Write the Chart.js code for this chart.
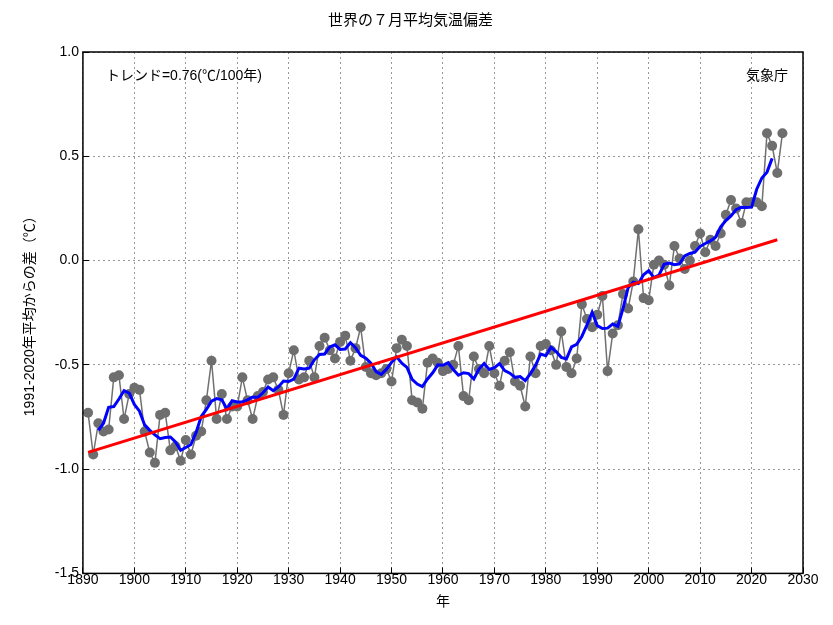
<!DOCTYPE html>
<html><head><meta charset="utf-8">
<script src="https://cdn.jsdelivr.net/npm/chart.js@4"></script>
<style>body{margin:0;background:#fff}#w{width:833px;height:625px}</style>
</head><body><div id="w"><canvas id="c"></canvas></div>
<script>
const START_YEAR = 1891;
const anomalies = [
  -0.73,-0.93,-0.78,-0.82,-0.81,-0.56,-0.55,-0.76,-0.64,-0.61,
  -0.62,-0.82,-0.92,-0.97,-0.74,-0.73,-0.91,-0.89,-0.96,-0.86,
  -0.93,-0.84,-0.82,-0.67,-0.48,-0.76,-0.64,-0.76,-0.70,-0.70,
  -0.56,-0.67,-0.76,-0.65,-0.63,-0.57,-0.56,-0.62,-0.74,-0.54,
  -0.43,-0.57,-0.56,-0.48,-0.56,-0.41,-0.37,-0.43,-0.47,-0.39,
  -0.36,-0.48,-0.42,-0.32,-0.51,-0.54,-0.55,-0.54,-0.52,-0.58,
  -0.42,-0.38,-0.41,-0.67,-0.68,-0.71,-0.49,-0.47,-0.49,-0.53,
  -0.52,-0.50,-0.41,-0.65,-0.67,-0.46,-0.52,-0.54,-0.41,-0.54,
  -0.60,-0.48,-0.44,-0.58,-0.60,-0.70,-0.46,-0.54,-0.41,-0.40,
  -0.43,-0.50,-0.34,-0.51,-0.54,-0.47,-0.21,-0.28,-0.32,-0.26,
  -0.17,-0.53,-0.35,-0.31,-0.16,-0.23,-0.10,0.15,-0.18,-0.19,
  -0.02,0.00,-0.02,-0.12,0.07,0.01,-0.04,0.00,0.07,0.13,
  0.04,0.10,0.07,0.13,0.22,0.29,0.25,0.18,0.28,0.28,
  0.28,0.26,0.61,0.55,0.42,0.61
];
const trendYears = [1891, 2025];
const trendValues = [-0.92, 0.10];
const xTicks = [1890,1900,1910,1920,1930,1940,1950,1960,1970,1980,1990,2000,2010,2020,2030];
const yTicks = [-1.5,-1.0,-0.5,0.0,0.5,1.0];

const points = anomalies.map((v,i)=>({x:START_YEAR+i,y:v}));
const runMean = [];
for (let i=2;i<anomalies.length-2;i++){
  let s=0; for(let k=-2;k<=2;k++) s+=anomalies[i+k];
  runMean.push({x:START_YEAR+i,y:s/5});
}
const trend = trendYears.map((x,i)=>({x,y:trendValues[i]}));

const FAM='"Liberation Sans", "Noto Sans CJK JP", sans-serif';
const textPlugin = {
  id:'texts',
  afterDraw(ch){
    const {ctx,chartArea:a}=ch;
    ctx.save();
    ctx.fillStyle='#000';
    ctx.font='14px '+FAM;
    ctx.textBaseline='middle';
    ctx.textAlign='left';
    ctx.fillText('トレンド=0.76(℃/100年)',a.left+23,a.top+24);
    ctx.textAlign='right';
    ctx.fillText('気象庁',a.right-15,a.top+24);
    ctx.strokeStyle='#000';ctx.lineWidth=1.5;
    ctx.strokeRect(a.left,a.top,a.right-a.left,a.bottom-a.top);
    ctx.restore();
  }
};

const font={family:FAM,size:14};
new Chart(document.getElementById('c'),{
  type:'line',
  data:{datasets:[
    {data:trend,borderColor:'#ff0000',borderWidth:3,pointRadius:0,order:1},
    {data:runMean,borderColor:'#0000ff',borderWidth:3,pointRadius:0,order:2},
    {data:points,borderColor:'#707070',borderWidth:1.5,pointRadius:5,pointBackgroundColor:'#6e6e6e',pointBorderWidth:0,order:3}
  ]},
  options:{
    responsive:true,maintainAspectRatio:false,animation:false,
    layout:{padding:{top:0,right:30,left:18,bottom:10}},
    plugins:{legend:{display:false},tooltip:{enabled:false},
      title:{display:true,text:'世界の７月平均気温偏差',color:'#000',font:{...font,size:15,weight:'normal'},padding:{top:12,bottom:22}}},
    scales:{
      x:{type:'linear',min:1890,max:2030,
        afterBuildTicks:s=>{s.ticks=xTicks.map(v=>({value:v}));},
        ticks:{color:'#000',font,maxRotation:0,callback:v=>String(v),padding:4},
        grid:{color:'#999',tickLength:-6,tickColor:'#000',drawTicks:true},
        border:{display:false,dash:[2,3]},
        title:{display:true,text:'年',color:'#000',font,padding:{top:2}}},
      y:{min:-1.5,max:1.0,
        afterBuildTicks:s=>{s.ticks=yTicks.map(v=>({value:v}));},
        ticks:{color:'#000',font,callback:v=>v.toFixed(1),padding:10},
        grid:{color:'#999',tickLength:-6,tickColor:'#000'},
        border:{display:false,dash:[2,3]},
        title:{display:true,text:'1991-2020年平均からの差（℃）',color:'#000',font,padding:{bottom:6}}}
    }
  },
  plugins:[textPlugin]
});
</script></body></html>
